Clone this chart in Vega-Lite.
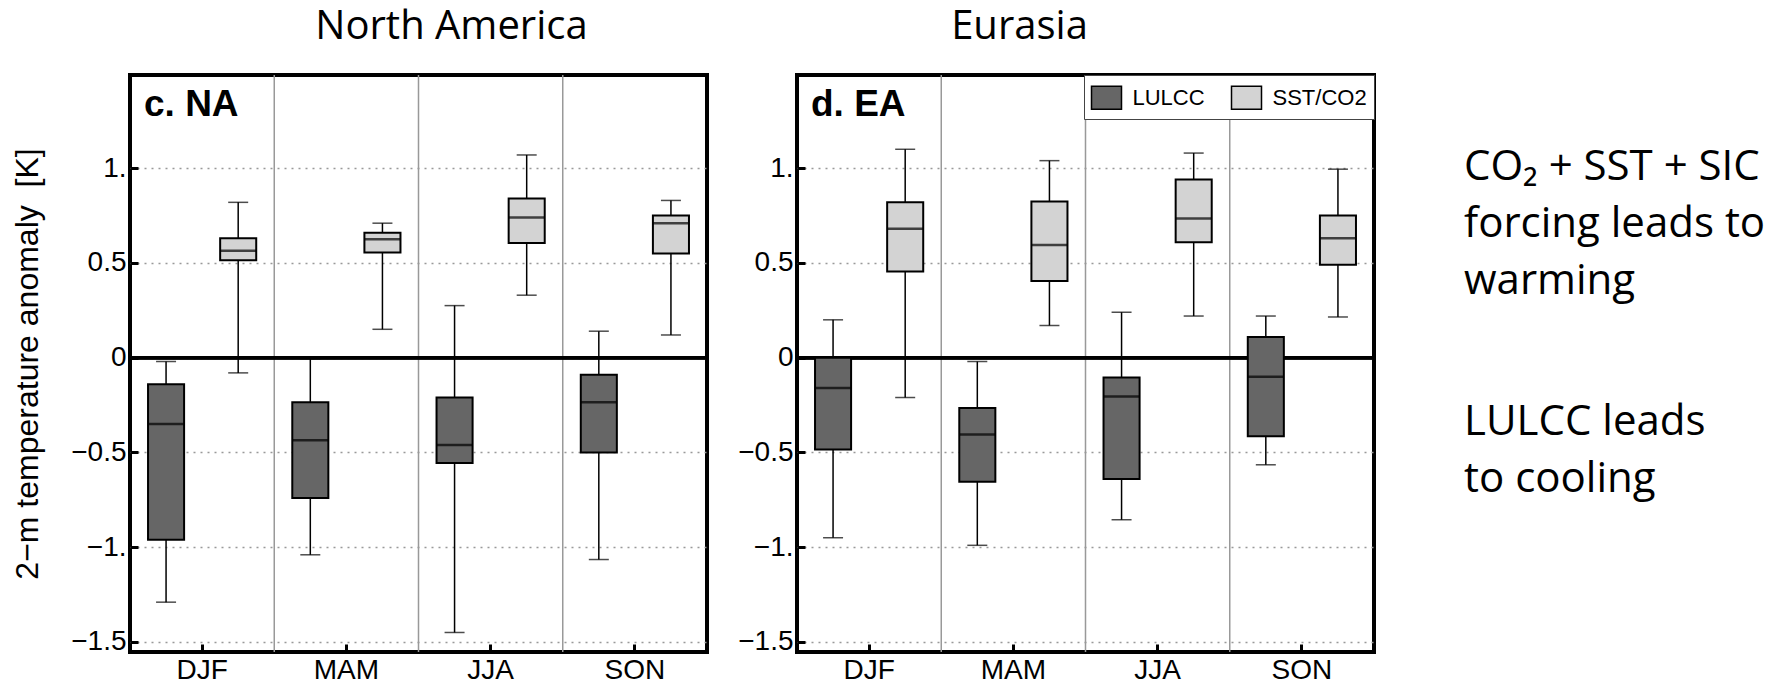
{
  "$schema": "https://vega.github.io/schema/vega-lite/v6.json",
  "background": "white",
  "padding": {"left": 9, "top": 5, "right": 0, "bottom": 0},
  "config": {
    "view": {"stroke": "black", "strokeWidth": 4},
    "font": "Liberation Sans",
    "axis": {"domain": false, "labelFont": "Liberation Sans", "labelFontSize": 28, "labelColor": "black", "tickColor": "black", "tickWidth": 3, "titleFont": "Liberation Sans", "titleFontSize": 32, "titleFontWeight": "normal", "titleColor": "black"},
    "axisX": {"tickSize": -8, "labelPadding": 12, "grid": false, "labelAngle": 0},
    "axisY": {"tickSize": -8, "labelPadding": 12, "grid": true, "gridDash": [2, 5], "gridColor": "#999999", "gridWidth": 1.5, "titlePadding": 26},
    "title": {"font": "Open Sans", "fontSize": 40, "fontWeight": "normal", "color": "black", "baseline": "alphabetic", "offset": 27, "anchor": "middle"}
  },
  "datasets": {
    "boxes": [
      {"region": "NA", "season": "DJF", "group": "LULCC", "lower": -1.29, "q1": -0.96, "median": -0.35, "q3": -0.14, "upper": -0.02},
      {"region": "NA", "season": "DJF", "group": "SST/CO2", "lower": -0.08, "q1": 0.515, "median": 0.565, "q3": 0.63, "upper": 0.82},
      {"region": "NA", "season": "MAM", "group": "LULCC", "lower": -1.04, "q1": -0.74, "median": -0.435, "q3": -0.235, "upper": -0.005},
      {"region": "NA", "season": "MAM", "group": "SST/CO2", "lower": 0.15, "q1": 0.555, "median": 0.625, "q3": 0.66, "upper": 0.71},
      {"region": "NA", "season": "JJA", "group": "LULCC", "lower": -1.45, "q1": -0.555, "median": -0.46, "q3": -0.21, "upper": 0.275},
      {"region": "NA", "season": "JJA", "group": "SST/CO2", "lower": 0.33, "q1": 0.605, "median": 0.74, "q3": 0.84, "upper": 1.07},
      {"region": "NA", "season": "SON", "group": "LULCC", "lower": -1.065, "q1": -0.5, "median": -0.235, "q3": -0.09, "upper": 0.14},
      {"region": "NA", "season": "SON", "group": "SST/CO2", "lower": 0.12, "q1": 0.55, "median": 0.71, "q3": 0.75, "upper": 0.83},
      {"region": "EA", "season": "DJF", "group": "LULCC", "lower": -0.95, "q1": -0.485, "median": -0.16, "q3": 0.0, "upper": 0.2},
      {"region": "EA", "season": "DJF", "group": "SST/CO2", "lower": -0.21, "q1": 0.455, "median": 0.68, "q3": 0.82, "upper": 1.1},
      {"region": "EA", "season": "MAM", "group": "LULCC", "lower": -0.99, "q1": -0.655, "median": -0.405, "q3": -0.265, "upper": -0.02},
      {"region": "EA", "season": "MAM", "group": "SST/CO2", "lower": 0.17, "q1": 0.405, "median": 0.595, "q3": 0.825, "upper": 1.04},
      {"region": "EA", "season": "JJA", "group": "LULCC", "lower": -0.855, "q1": -0.64, "median": -0.205, "q3": -0.105, "upper": 0.24},
      {"region": "EA", "season": "JJA", "group": "SST/CO2", "lower": 0.22, "q1": 0.61, "median": 0.735, "q3": 0.94, "upper": 1.08},
      {"region": "EA", "season": "SON", "group": "LULCC", "lower": -0.565, "q1": -0.415, "median": -0.1, "q3": 0.11, "upper": 0.22},
      {"region": "EA", "season": "SON", "group": "SST/CO2", "lower": 0.215, "q1": 0.49, "median": 0.63, "q3": 0.75, "upper": 0.995}
    ],
    "notes": [
      {"note": "CO₂ + SST + SIC\nforcing leads to\nwarming", "pos": 0.938},
      {"note": "LULCC leads\nto cooling", "pos": -0.41}
    ]
  },
  "spacing": 86,
  "hconcat": [
    {
      "spacing": 24,
      "resolve": {"scale": {"fill": "independent"}, "legend": {"fill": "independent"}},
      "hconcat": [
        {
          "width": 577, "height": 577,
          "title": {"text": "North America", "dx": 33},
          "data": {"name": "boxes"},
          "transform": [{"filter": "datum.region == 'NA'"}],
          "layer": [
            {
              "transform": [{"filter": "datum.group == 'LULCC' && datum.season != 'DJF'"}],
              "mark": {"type": "rule", "color": "#999999", "strokeWidth": 1.5},
              "encoding": {"x": {"field": "season", "type": "nominal", "bandPosition": 0, "scale": {"domain": ["DJF", "MAM", "JJA", "SON"], "paddingInner": 0, "paddingOuter": 0}, "title": null}}
            },
            {
              "mark": {"type": "rule", "color": "black", "strokeWidth": 3},
              "encoding": {"y": {"datum": 0, "type": "quantitative", "scale": {"domain": [-1.553, 1.492], "nice": false, "zero": false}, "title": "2−m temperature anomaly \u00a0[K]", "axis": {"values": [-1.5, -1, -0.5, 0, 0.5, 1], "format": ".2~f", "labelExpr": "datum.value == 1 ? '1.' : datum.value == -1 ? '−1.' : datum.label"}}}
            },
            {
              "mark": {"type": "rule", "color": "black", "strokeWidth": 1.5},
              "encoding": {
                "x": {"field": "season", "type": "nominal", "scale": {"domain": ["DJF", "MAM", "JJA", "SON"], "paddingInner": 0, "paddingOuter": 0}, "title": null},
                "xOffset": {"field": "group", "type": "nominal", "scale": {"domain": ["LULCC", "SST/CO2"], "paddingInner": 0.5, "paddingOuter": 0.25}},
                "y": {"field": "lower", "type": "quantitative", "title": "2−m temperature anomaly \u00a0[K]"},
                "y2": {"field": "upper"}
              }
            },
            {
              "mark": {"type": "tick", "color": "black", "size": 20, "thickness": 1.5},
              "encoding": {
                "x": {"field": "season", "type": "nominal", "title": null},
                "xOffset": {"field": "group", "type": "nominal"},
                "y": {"field": "lower", "type": "quantitative", "title": "2−m temperature anomaly \u00a0[K]"}
              }
            },
            {
              "mark": {"type": "tick", "color": "black", "size": 20, "thickness": 1.5},
              "encoding": {
                "x": {"field": "season", "type": "nominal", "title": null},
                "xOffset": {"field": "group", "type": "nominal"},
                "y": {"field": "upper", "type": "quantitative", "title": "2−m temperature anomaly \u00a0[K]"}
              }
            },
            {
              "mark": {"type": "bar", "stroke": "black", "strokeWidth": 2, "opacity": 1},
              "encoding": {
                "x": {"field": "season", "type": "nominal", "title": null},
                "xOffset": {"field": "group", "type": "nominal"},
                "y": {"field": "q1", "type": "quantitative", "title": "2−m temperature anomaly \u00a0[K]"},
                "y2": {"field": "q3"},
                "fill": {"field": "group", "type": "nominal", "scale": {"domain": ["LULCC", "SST/CO2"], "range": ["#666666", "#d3d3d3"]}, "legend": null}
              }
            },
            {
              "mark": {"type": "tick", "color": "black", "size": 36, "thickness": 2.5},
              "encoding": {
                "x": {"field": "season", "type": "nominal", "title": null},
                "xOffset": {"field": "group", "type": "nominal"},
                "y": {"field": "median", "type": "quantitative", "title": "2−m temperature anomaly \u00a0[K]"}
              }
            },
            {
              "data": {"values": [{"panel": "c. NA"}]},
              "mark": {"type": "text", "font": "Liberation Sans", "fontSize": 37, "fontWeight": "bold", "align": "left", "baseline": "alphabetic", "dx": 14, "color": "black"},
              "encoding": {
                "x": {"datum": "DJF", "type": "nominal", "bandPosition": 0},
                "y": {"datum": 1.275, "type": "quantitative"},
                "text": {"field": "panel"}
              }
            }
          ]
        },
        {
          "width": 577, "height": 577,
          "title": {"text": "Eurasia", "dx": -66},
          "data": {"name": "boxes"},
          "transform": [{"filter": "datum.region == 'EA'"}],
          "layer": [
            {
              "transform": [{"filter": "datum.group == 'LULCC' && datum.season != 'DJF'"}],
              "mark": {"type": "rule", "color": "#999999", "strokeWidth": 1.5},
              "encoding": {"x": {"field": "season", "type": "nominal", "bandPosition": 0, "scale": {"domain": ["DJF", "MAM", "JJA", "SON"], "paddingInner": 0, "paddingOuter": 0}, "title": null}}
            },
            {
              "mark": {"type": "rule", "color": "black", "strokeWidth": 3},
              "encoding": {"y": {"datum": 0, "type": "quantitative", "scale": {"domain": [-1.553, 1.492], "nice": false, "zero": false}, "title": null, "axis": {"values": [-1.5, -1, -0.5, 0, 0.5, 1], "format": ".2~f", "labelExpr": "datum.value == 1 ? '1.' : datum.value == -1 ? '−1.' : datum.label"}}}
            },
            {
              "mark": {"type": "rule", "color": "black", "strokeWidth": 1.5},
              "encoding": {
                "x": {"field": "season", "type": "nominal", "scale": {"domain": ["DJF", "MAM", "JJA", "SON"], "paddingInner": 0, "paddingOuter": 0}, "title": null},
                "xOffset": {"field": "group", "type": "nominal", "scale": {"domain": ["LULCC", "SST/CO2"], "paddingInner": 0.5, "paddingOuter": 0.25}},
                "y": {"field": "lower", "type": "quantitative", "title": null},
                "y2": {"field": "upper"}
              }
            },
            {
              "mark": {"type": "tick", "color": "black", "size": 20, "thickness": 1.5},
              "encoding": {
                "x": {"field": "season", "type": "nominal", "title": null},
                "xOffset": {"field": "group", "type": "nominal"},
                "y": {"field": "lower", "type": "quantitative", "title": null}
              }
            },
            {
              "mark": {"type": "tick", "color": "black", "size": 20, "thickness": 1.5},
              "encoding": {
                "x": {"field": "season", "type": "nominal", "title": null},
                "xOffset": {"field": "group", "type": "nominal"},
                "y": {"field": "upper", "type": "quantitative", "title": null}
              }
            },
            {
              "mark": {"type": "bar", "stroke": "black", "strokeWidth": 2, "opacity": 1},
              "encoding": {
                "x": {"field": "season", "type": "nominal", "title": null},
                "xOffset": {"field": "group", "type": "nominal"},
                "y": {"field": "q1", "type": "quantitative", "title": null},
                "y2": {"field": "q3"},
                "fill": {"field": "group", "type": "nominal", "scale": {"domain": ["LULCC", "SST/CO2"], "range": ["#666666", "#d3d3d3"]},
                  "legend": {"orient": "top-right", "direction": "horizontal", "title": null, "offset": 0, "padding": 6.5, "strokeColor": "#444444", "fillColor": "white", "symbolType": "M-1,-0.767L1,-0.767L1,0.767L-1,0.767Z", "symbolSize": 900, "symbolStrokeColor": "black", "symbolStrokeWidth": 1.5, "symbolOpacity": 1, "labelFont": "Liberation Sans", "labelFontSize": 22, "labelColor": "black", "labelOffset": 10, "columnPadding": 23}}
              }
            },
            {
              "mark": {"type": "tick", "color": "black", "size": 36, "thickness": 2.5},
              "encoding": {
                "x": {"field": "season", "type": "nominal", "title": null},
                "xOffset": {"field": "group", "type": "nominal"},
                "y": {"field": "median", "type": "quantitative", "title": null}
              }
            },
            {
              "data": {"values": [{"panel": "d. EA"}]},
              "mark": {"type": "text", "font": "Liberation Sans", "fontSize": 37, "fontWeight": "bold", "align": "left", "baseline": "alphabetic", "dx": 14, "color": "black"},
              "encoding": {
                "x": {"datum": "DJF", "type": "nominal", "bandPosition": 0},
                "y": {"datum": 1.275, "type": "quantitative"},
                "text": {"field": "panel"}
              }
            }
          ]
        }
      ]
    },
    {
      "width": 300, "height": 577,
      "title": {"text": " "},
      "view": {"stroke": null},
      "data": {"name": "notes"},
      "mark": {"type": "text", "font": "Open Sans", "fontSize": 42, "align": "left", "baseline": "alphabetic", "lineBreak": "\n", "lineHeight": 57, "color": "black"},
      "encoding": {
        "x": {"datum": 0, "type": "quantitative", "scale": {"domain": [0, 1]}, "axis": null},
        "y": {"field": "pos", "type": "quantitative", "scale": {"domain": [-1.553, 1.492], "nice": false, "zero": false}, "axis": null},
        "text": {"field": "note"}
      }
    }
  ]
}
